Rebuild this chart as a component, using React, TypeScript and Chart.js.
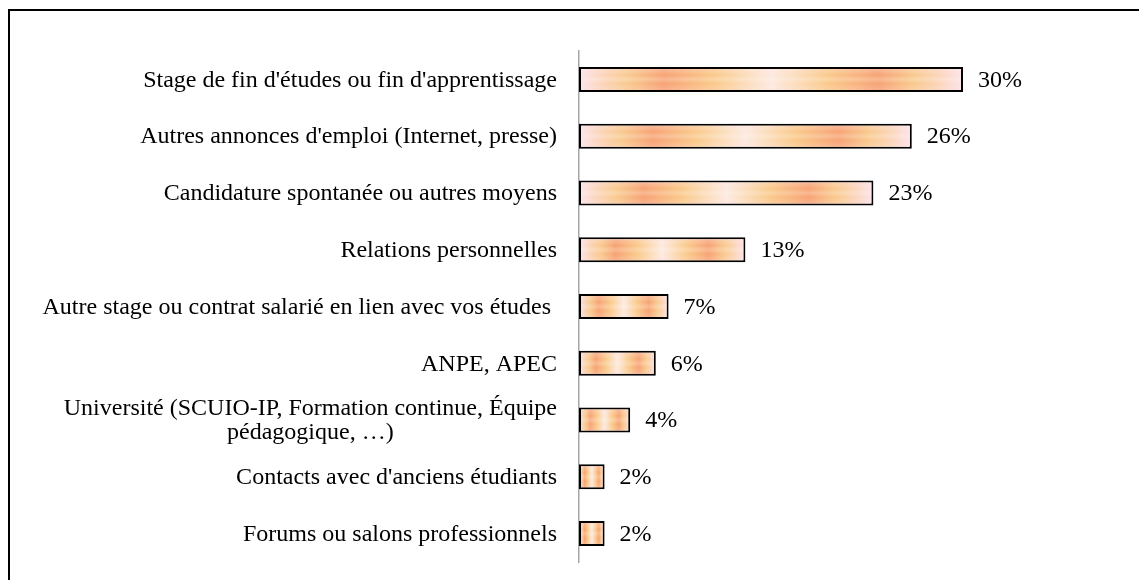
import React, { useEffect, useRef } from "react";
import { Chart, registerables } from "chart.js";

Chart.register(...registerables);

const categories: (string | string[])[] = [
  "Stage de fin d'études ou fin d'apprentissage",
  "Autres annonces d'emploi (Internet, presse)",
  "Candidature spontanée ou autres moyens",
  "Relations personnelles",
  "Autre stage ou contrat salarié en lien avec vos études ",
  "ANPE, APEC",
  ["Université (SCUIO-IP, Formation continue, Équipe", "pédagogique, …)"],
  "Contacts avec d'anciens étudiants",
  "Forums ou salons professionnels",
];
const values = [30, 26, 23, 13, 7, 6, 4, 2, 2];
const valueLabels = values.map((v) => v + "%");

const FONT = '24px "Liberation Serif", "Times New Roman", serif';

const gradientStops: [number, string][] = [
  [0, "#fde4ec"],
  [0.07, "#fbd3b4"],
  [0.13, "#f9c98d"],
  [0.22, "#f7a274"],
  [0.35, "#fac98a"],
  [0.45, "#fce0c4"],
  [0.5, "#fde9e0"],
  [0.55, "#fce0c4"],
  [0.65, "#fac98a"],
  [0.78, "#f7a274"],
  [0.87, "#f9c98d"],
  [0.93, "#fbd3b4"],
  [1, "#fde4ec"],
];

const framePlugin = {
  id: "frame",
  beforeDraw(chart: any) {
    const c = chart.ctx;
    c.save();
    c.fillStyle = "#fff";
    c.fillRect(0, 0, chart.width, chart.height);
    c.fillStyle = "#000";
    c.fillRect(8, 9, 2, chart.height - 9);
    c.fillRect(8, 9, chart.width - 8, 2);
    c.restore();
  },
};

const labelsPlugin = {
  id: "labelsAndValues",
  afterDatasetsDraw(chart: any) {
    const c = chart.ctx;
    const meta = chart.getDatasetMeta(0);
    const yScale = chart.scales.y;
    c.save();
    // soft highlight overlay on bars
    meta.data.forEach((el: any) => {
      const { x, y, base, height } = el.getProps(["x", "y", "base", "height"], true);
      const top = y - height / 2 + 2;
      const h = height - 4;
      const g = c.createLinearGradient(0, top, 0, top + h);
      g.addColorStop(0, "rgba(253,228,236,0.3)");
      g.addColorStop(0.3, "rgba(255,255,255,0)");
      g.addColorStop(0.5, "rgba(255,248,240,0.25)");
      g.addColorStop(0.7, "rgba(255,255,255,0)");
      g.addColorStop(1, "rgba(253,228,236,0.2)");
      c.fillStyle = g;
      c.fillRect(base + 2, top, x - base - 4, h);
    });
    c.font = FONT;
    c.fillStyle = "#000";
    c.textBaseline = "middle";
    // value labels
    c.textAlign = "left";
    meta.data.forEach((el: any, i: number) => {
      const { x, y } = el.getProps(["x", "y"], true);
      c.fillText(valueLabels[i], x + 15, y + 1);
    });
    // category labels
    const rightEdge = chart.chartArea.left - 22;
    c.textAlign = "center";
    chart.data.labels.forEach((lab: any, i: number) => {
      const lines: string[] = Array.isArray(lab) ? lab : [lab];
      const maxW = Math.max(...lines.map((l) => c.measureText(l).width));
      const cx = rightEdge - maxW / 2;
      const yc = yScale.getPixelForValue(i);
      const lh = 24;
      const y0 = yc - ((lines.length - 1) * lh) / 2;
      lines.forEach((l, k) => c.fillText(l, cx, y0 + k * lh + 1));
    });
    c.restore();
  },
};

export default function App() {
  const ref = useRef<HTMLCanvasElement | null>(null);
  useEffect(() => {
    if (!ref.current) return;
    const chart = new Chart(ref.current, {
      type: "bar",
      data: {
        labels: categories as any,
        datasets: [
          {
            data: values,
            backgroundColor: (ctx: any) => {
              const chart = ctx.chart;
              const xs = chart.scales && chart.scales.x;
              if (!xs || ctx.type !== "data") return "#f8a777";
              const x0 = xs.getPixelForValue(0);
              const x1 = xs.getPixelForValue(ctx.raw);
              if (!isFinite(x0) || !isFinite(x1) || x1 <= x0) return "#f8a777";
              const g = chart.ctx.createLinearGradient(x0, 0, x1, 0);
              gradientStops.forEach(([o, col]) => g.addColorStop(o, col));
              return g;
            },
            borderColor: "#000",
            borderWidth: 2,
            borderSkipped: false,
            barPercentage: 0.44,
            categoryPercentage: 1,
          },
        ],
      },
      options: {
        indexAxis: "y",
        responsive: false,
        animation: false,
        layout: { padding: { left: 579, right: 48, top: 51, bottom: 18 } },
        scales: {
          x: { display: false, min: 0, max: 40 },
          y: {
            ticks: { display: false },
            grid: { display: false, drawTicks: false },
            border: { display: true, color: "#a6a6a6", width: 1.5 },
          },
        },
        plugins: {
          legend: { display: false },
          tooltip: { enabled: false },
        },
      },
      plugins: [framePlugin, labelsPlugin],
    });
    return () => chart.destroy();
  }, []);
  return (
    <div style={{ position: "absolute", left: 0, top: 0, width: 1139, height: 580, overflow: "hidden" }}>
      <canvas ref={ref} width={1139} height={580} style={{ display: "block" }} />
    </div>
  );
}
